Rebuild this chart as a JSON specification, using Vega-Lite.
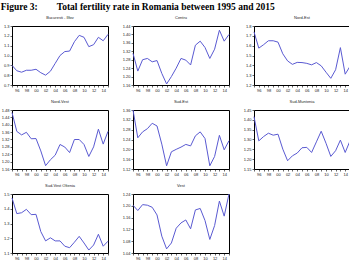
{
  "$schema": "https://vega.github.io/schema/vega-lite/v6.json",
  "padding": {"left": 0, "top": 2, "right": 0, "bottom": 0},
  "background": "#ffffff",
  "title": {
    "text": "Figure 3:\u00a0\u00a0\u00a0\u00a0\u00a0\u00a0\u00a0\u00a0Total fertility rate in Romania between 1995 and 2015",
    "anchor": "start",
    "font": "Liberation Serif",
    "fontSize": 9.5,
    "fontWeight": "bold",
    "color": "#000000",
    "offset": 4
  },
  "datasets": {
    "bucuresti": [
      {"year": 1995, "tfr": 0.900}, {"year": 1996, "tfr": 0.845}, {"year": 1997, "tfr": 0.830}, {"year": 1998, "tfr": 0.850},
      {"year": 1999, "tfr": 0.850}, {"year": 2000, "tfr": 0.860}, {"year": 2001, "tfr": 0.825}, {"year": 2002, "tfr": 0.800},
      {"year": 2003, "tfr": 0.840}, {"year": 2004, "tfr": 0.920}, {"year": 2005, "tfr": 1.000}, {"year": 2006, "tfr": 1.040},
      {"year": 2007, "tfr": 1.045}, {"year": 2008, "tfr": 1.140}, {"year": 2009, "tfr": 1.205}, {"year": 2010, "tfr": 1.185},
      {"year": 2011, "tfr": 1.090}, {"year": 2012, "tfr": 1.110}, {"year": 2013, "tfr": 1.185}, {"year": 2014, "tfr": 1.150},
      {"year": 2015, "tfr": 1.215}
    ],
    "centru": [
      {"year": 1995, "tfr": 1.310}, {"year": 1996, "tfr": 1.226}, {"year": 1997, "tfr": 1.280}, {"year": 1998, "tfr": 1.286},
      {"year": 1999, "tfr": 1.270}, {"year": 2000, "tfr": 1.276}, {"year": 2001, "tfr": 1.215}, {"year": 2002, "tfr": 1.165},
      {"year": 2003, "tfr": 1.200}, {"year": 2004, "tfr": 1.240}, {"year": 2005, "tfr": 1.286}, {"year": 2006, "tfr": 1.278},
      {"year": 2007, "tfr": 1.255}, {"year": 2008, "tfr": 1.349}, {"year": 2009, "tfr": 1.368}, {"year": 2010, "tfr": 1.338},
      {"year": 2011, "tfr": 1.286}, {"year": 2012, "tfr": 1.330}, {"year": 2013, "tfr": 1.420}, {"year": 2014, "tfr": 1.368},
      {"year": 2015, "tfr": 1.400}
    ],
    "nordest": [
      {"year": 1995, "tfr": 1.740}, {"year": 1996, "tfr": 1.575}, {"year": 1997, "tfr": 1.610}, {"year": 1998, "tfr": 1.650},
      {"year": 1999, "tfr": 1.650}, {"year": 2000, "tfr": 1.636}, {"year": 2001, "tfr": 1.517}, {"year": 2002, "tfr": 1.445},
      {"year": 2003, "tfr": 1.410}, {"year": 2004, "tfr": 1.430}, {"year": 2005, "tfr": 1.428}, {"year": 2006, "tfr": 1.420},
      {"year": 2007, "tfr": 1.405}, {"year": 2008, "tfr": 1.428}, {"year": 2009, "tfr": 1.395}, {"year": 2010, "tfr": 1.330},
      {"year": 2011, "tfr": 1.268}, {"year": 2012, "tfr": 1.355}, {"year": 2013, "tfr": 1.580}, {"year": 2014, "tfr": 1.310},
      {"year": 2015, "tfr": 1.390}
    ],
    "nordvest": [
      {"year": 1995, "tfr": 1.466}, {"year": 1996, "tfr": 1.364}, {"year": 1997, "tfr": 1.345}, {"year": 1998, "tfr": 1.359},
      {"year": 1999, "tfr": 1.324}, {"year": 2000, "tfr": 1.325}, {"year": 2001, "tfr": 1.258}, {"year": 2002, "tfr": 1.178},
      {"year": 2003, "tfr": 1.210}, {"year": 2004, "tfr": 1.235}, {"year": 2005, "tfr": 1.293}, {"year": 2006, "tfr": 1.279},
      {"year": 2007, "tfr": 1.249}, {"year": 2008, "tfr": 1.320}, {"year": 2009, "tfr": 1.320}, {"year": 2010, "tfr": 1.293},
      {"year": 2011, "tfr": 1.228}, {"year": 2012, "tfr": 1.280}, {"year": 2013, "tfr": 1.376}, {"year": 2014, "tfr": 1.295},
      {"year": 2015, "tfr": 1.364}
    ],
    "sudest": [
      {"year": 1995, "tfr": 1.360}, {"year": 1996, "tfr": 1.247}, {"year": 1997, "tfr": 1.271}, {"year": 1998, "tfr": 1.284},
      {"year": 1999, "tfr": 1.306}, {"year": 2000, "tfr": 1.295}, {"year": 2001, "tfr": 1.221}, {"year": 2002, "tfr": 1.133},
      {"year": 2003, "tfr": 1.190}, {"year": 2004, "tfr": 1.200}, {"year": 2005, "tfr": 1.209}, {"year": 2006, "tfr": 1.220},
      {"year": 2007, "tfr": 1.214}, {"year": 2008, "tfr": 1.255}, {"year": 2009, "tfr": 1.271}, {"year": 2010, "tfr": 1.244},
      {"year": 2011, "tfr": 1.133}, {"year": 2012, "tfr": 1.171}, {"year": 2013, "tfr": 1.257}, {"year": 2014, "tfr": 1.198},
      {"year": 2015, "tfr": 1.235}
    ],
    "sudmuntenia": [
      {"year": 1995, "tfr": 1.416}, {"year": 1996, "tfr": 1.293}, {"year": 1997, "tfr": 1.315}, {"year": 1998, "tfr": 1.332},
      {"year": 1999, "tfr": 1.322}, {"year": 2000, "tfr": 1.327}, {"year": 2001, "tfr": 1.251}, {"year": 2002, "tfr": 1.192},
      {"year": 2003, "tfr": 1.217}, {"year": 2004, "tfr": 1.231}, {"year": 2005, "tfr": 1.258}, {"year": 2006, "tfr": 1.260},
      {"year": 2007, "tfr": 1.234}, {"year": 2008, "tfr": 1.288}, {"year": 2009, "tfr": 1.342}, {"year": 2010, "tfr": 1.281},
      {"year": 2011, "tfr": 1.214}, {"year": 2012, "tfr": 1.243}, {"year": 2013, "tfr": 1.297}, {"year": 2014, "tfr": 1.234},
      {"year": 2015, "tfr": 1.293}
    ],
    "sudvest": [
      {"year": 1995, "tfr": 1.473}, {"year": 1996, "tfr": 1.367}, {"year": 1997, "tfr": 1.373}, {"year": 1998, "tfr": 1.396},
      {"year": 1999, "tfr": 1.360}, {"year": 2000, "tfr": 1.362}, {"year": 2001, "tfr": 1.245}, {"year": 2002, "tfr": 1.182},
      {"year": 2003, "tfr": 1.203}, {"year": 2004, "tfr": 1.182}, {"year": 2005, "tfr": 1.182}, {"year": 2006, "tfr": 1.146},
      {"year": 2007, "tfr": 1.136}, {"year": 2008, "tfr": 1.173}, {"year": 2009, "tfr": 1.213}, {"year": 2010, "tfr": 1.168},
      {"year": 2011, "tfr": 1.120}, {"year": 2012, "tfr": 1.154}, {"year": 2013, "tfr": 1.227}, {"year": 2014, "tfr": 1.146},
      {"year": 2015, "tfr": 1.180}
    ],
    "vest": [
      {"year": 1995, "tfr": 1.202}, {"year": 1996, "tfr": 1.184}, {"year": 1997, "tfr": 1.204}, {"year": 1998, "tfr": 1.202},
      {"year": 1999, "tfr": 1.195}, {"year": 2000, "tfr": 1.169}, {"year": 2001, "tfr": 1.097}, {"year": 2002, "tfr": 1.054},
      {"year": 2003, "tfr": 1.074}, {"year": 2004, "tfr": 1.124}, {"year": 2005, "tfr": 1.142}, {"year": 2006, "tfr": 1.152},
      {"year": 2007, "tfr": 1.122}, {"year": 2008, "tfr": 1.186}, {"year": 2009, "tfr": 1.191}, {"year": 2010, "tfr": 1.150},
      {"year": 2011, "tfr": 1.086}, {"year": 2012, "tfr": 1.133}, {"year": 2013, "tfr": 1.216}, {"year": 2014, "tfr": 1.165},
      {"year": 2015, "tfr": 1.240}
    ]
  },
  "columns": 3,
  "spacing": {"row": 25, "column": 25},
  "bounds": "flush",
  "align": "all",
  "concat": [
    {
      "title": "Bucuresti - Ilfov",
      "data": {"name": "bucuresti"},
      "width": 96, "height": 59,
      "mark": {"type": "line", "color": "#5a5ad2", "strokeWidth": 1},
      "encoding": {
        "x": {"field": "year", "type": "quantitative", "title": null, "scale": {"domain": [1995, 2015]},
              "axis": {"values": [1995,1996,1997,1998,1999,2000,2001,2002,2003,2004,2005,2006,2007,2008,2009,2010,2011,2012,2013,2014,2015],
                       "labelExpr": "datum.value % 2 == 0 ? substring(toString(datum.value), 2, 4) : ''"}},
        "y": {"field": "tfr", "type": "quantitative", "title": null, "scale": {"domain": [0.7, 1.3], "nice": false, "zero": false},
              "axis": {"values": [0.7,0.8,0.9,1.0,1.1,1.2,1.3], "format": ".1f"}}
      }
    },
    {
      "title": "Centru",
      "data": {"name": "centru"},
      "width": 96, "height": 59,
      "mark": {"type": "line", "color": "#5a5ad2", "strokeWidth": 1},
      "encoding": {
        "x": {"field": "year", "type": "quantitative", "title": null, "scale": {"domain": [1995, 2015]},
              "axis": {"values": [1995,1996,1997,1998,1999,2000,2001,2002,2003,2004,2005,2006,2007,2008,2009,2010,2011,2012,2013,2014,2015],
                       "labelExpr": "datum.value % 2 == 0 ? substring(toString(datum.value), 2, 4) : ''"}},
        "y": {"field": "tfr", "type": "quantitative", "title": null, "scale": {"domain": [1.16, 1.44], "nice": false, "zero": false},
              "axis": {"values": [1.16,1.20,1.24,1.28,1.32,1.36,1.40,1.44], "format": ".2f"}}
      }
    },
    {
      "title": "Nord-Est",
      "data": {"name": "nordest"},
      "width": 96, "height": 59,
      "mark": {"type": "line", "color": "#5a5ad2", "strokeWidth": 1},
      "encoding": {
        "x": {"field": "year", "type": "quantitative", "title": null, "scale": {"domain": [1995, 2015]},
              "axis": {"values": [1995,1996,1997,1998,1999,2000,2001,2002,2003,2004,2005,2006,2007,2008,2009,2010,2011,2012,2013,2014,2015],
                       "labelExpr": "datum.value % 2 == 0 ? substring(toString(datum.value), 2, 4) : ''"}},
        "y": {"field": "tfr", "type": "quantitative", "title": null, "scale": {"domain": [1.2, 1.8], "nice": false, "zero": false},
              "axis": {"values": [1.2,1.3,1.4,1.5,1.6,1.7,1.8], "format": ".1f"}}
      }
    },
    {
      "title": "Nord-Vest",
      "data": {"name": "nordvest"},
      "width": 96, "height": 59,
      "mark": {"type": "line", "color": "#5a5ad2", "strokeWidth": 1},
      "encoding": {
        "x": {"field": "year", "type": "quantitative", "title": null, "scale": {"domain": [1995, 2015]},
              "axis": {"values": [1995,1996,1997,1998,1999,2000,2001,2002,2003,2004,2005,2006,2007,2008,2009,2010,2011,2012,2013,2014,2015],
                       "labelExpr": "datum.value % 2 == 0 ? substring(toString(datum.value), 2, 4) : ''"}},
        "y": {"field": "tfr", "type": "quantitative", "title": null, "scale": {"domain": [1.16, 1.48], "nice": false, "zero": false},
              "axis": {"values": [1.16,1.20,1.24,1.28,1.32,1.36,1.40,1.44,1.48], "format": ".2f"}}
      }
    },
    {
      "title": "Sud-Est",
      "data": {"name": "sudest"},
      "width": 96, "height": 59,
      "mark": {"type": "line", "color": "#5a5ad2", "strokeWidth": 1},
      "encoding": {
        "x": {"field": "year", "type": "quantitative", "title": null, "scale": {"domain": [1995, 2015]},
              "axis": {"values": [1995,1996,1997,1998,1999,2000,2001,2002,2003,2004,2005,2006,2007,2008,2009,2010,2011,2012,2013,2014,2015],
                       "labelExpr": "datum.value % 2 == 0 ? substring(toString(datum.value), 2, 4) : ''"}},
        "y": {"field": "tfr", "type": "quantitative", "title": null, "scale": {"domain": [1.12, 1.36], "nice": false, "zero": false},
              "axis": {"values": [1.12,1.16,1.20,1.24,1.28,1.32,1.36], "format": ".2f"}}
      }
    },
    {
      "title": "Sud-Muntenia",
      "data": {"name": "sudmuntenia"},
      "width": 96, "height": 59,
      "mark": {"type": "line", "color": "#5a5ad2", "strokeWidth": 1},
      "encoding": {
        "x": {"field": "year", "type": "quantitative", "title": null, "scale": {"domain": [1995, 2015]},
              "axis": {"values": [1995,1996,1997,1998,1999,2000,2001,2002,2003,2004,2005,2006,2007,2008,2009,2010,2011,2012,2013,2014,2015],
                       "labelExpr": "datum.value % 2 == 0 ? substring(toString(datum.value), 2, 4) : ''"}},
        "y": {"field": "tfr", "type": "quantitative", "title": null, "scale": {"domain": [1.15, 1.45], "nice": false, "zero": false},
              "axis": {"values": [1.15,1.20,1.25,1.30,1.35,1.40,1.45], "format": ".2f"}}
      }
    },
    {
      "title": "Sud-Vest Oltenia",
      "data": {"name": "sudvest"},
      "width": 96, "height": 59,
      "mark": {"type": "line", "color": "#5a5ad2", "strokeWidth": 1},
      "encoding": {
        "x": {"field": "year", "type": "quantitative", "title": null, "scale": {"domain": [1995, 2015]},
              "axis": {"values": [1995,1996,1997,1998,1999,2000,2001,2002,2003,2004,2005,2006,2007,2008,2009,2010,2011,2012,2013,2014,2015],
                       "labelExpr": "datum.value % 2 == 0 ? substring(toString(datum.value), 2, 4) : ''"}},
        "y": {"field": "tfr", "type": "quantitative", "title": null, "scale": {"domain": [1.1, 1.5], "nice": false, "zero": false},
              "axis": {"values": [1.1,1.2,1.3,1.4,1.5], "format": ".1f"}}
      }
    },
    {
      "title": "Vest",
      "data": {"name": "vest"},
      "width": 96, "height": 59,
      "mark": {"type": "line", "color": "#5a5ad2", "strokeWidth": 1},
      "encoding": {
        "x": {"field": "year", "type": "quantitative", "title": null, "scale": {"domain": [1995, 2015]},
              "axis": {"values": [1995,1996,1997,1998,1999,2000,2001,2002,2003,2004,2005,2006,2007,2008,2009,2010,2011,2012,2013,2014,2015],
                       "labelExpr": "datum.value % 2 == 0 ? substring(toString(datum.value), 2, 4) : ''"}},
        "y": {"field": "tfr", "type": "quantitative", "title": null, "scale": {"domain": [1.04, 1.24], "nice": false, "zero": false},
              "axis": {"values": [1.04,1.08,1.12,1.16,1.20,1.24], "format": ".2f"}}
      }
    }
  ],
  "config": {
    "view": {"stroke": "#000000", "strokeWidth": 1},
    "title": {"font": "Liberation Sans", "fontSize": 4, "fontWeight": "normal", "color": "#222222", "offset": 4, "anchor": "middle"},
    "axis": {
      "grid": false,
      "domain": false,
      "ticks": true,
      "tickColor": "#000000",
      "tickSize": 2,
      "tickWidth": 0.6,
      "labelFont": "Liberation Sans",
      "labelFontSize": 4,
      "labelColor": "#222222",
      "labelPadding": 1,
      "labelOverlap": false,
      "labelFlush": false
    }
  }
}
